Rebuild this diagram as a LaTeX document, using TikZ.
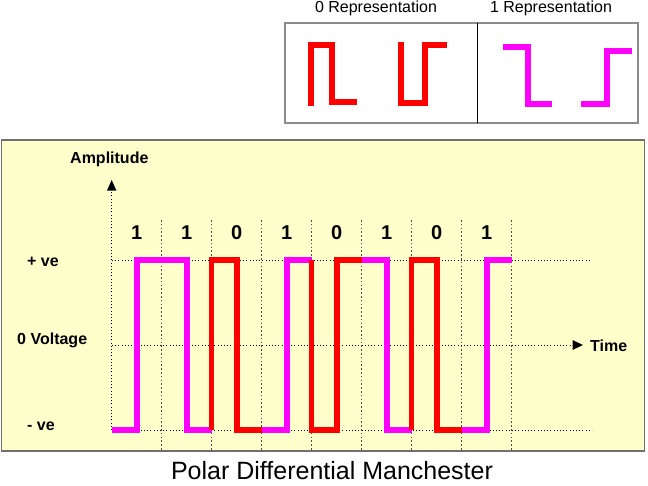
\documentclass[tikz,border=0pt]{standalone}
\usepackage{fontspec}
\setmainfont{Liberation Sans}
\usetikzlibrary{arrows.meta}
\definecolor{bgyellow}{HTML}{FFFFCC}
\definecolor{boxgray}{HTML}{8C8C8C}
\definecolor{mag}{HTML}{FF00FF}
\definecolor{redw}{HTML}{FF0000}
\tikzset{
  lbl/.style={font=\fontsize{16}{19}\selectfont\bfseries, inner sep=0pt},
  toplbl/.style={font=\fontsize{16}{19}\selectfont, inner sep=0pt, anchor=base},
  bitlbl/.style={font=\fontsize{20}{24}\selectfont\bfseries, inner sep=0pt, anchor=base},
  hgrid/.style={black, line width=0.9pt, dash pattern=on 1pt off 2.2pt},
  vgrid/.style={gray!60!black, line width=0.8pt, dash pattern=on 1.6pt off 2.2pt},
  wave/.style={line width=5.5pt, line join=miter},
  onewave/.style={wave, mag},
  zerowave/.style={wave, redw},
}
\begin{document}
\begin{tikzpicture}[x=1pt,y=-1pt]
\useasboundingbox (0,0) rectangle (648,485);
% ---------- legend box ----------
\draw[boxgray, line width=1.4pt] (285,23) rectangle (638,123);
\draw[black, line width=1pt] (477,23) -- (477,123);
\node[toplbl] (l0) at (376,12) {0 Representation};
\node[toplbl] (l1) at (551,12) {1 Representation};
\draw[zerowave, line width=6pt] (311,106) -- (311,45) -- (332,45) -- (332,102) -- (357,102);
\draw[zerowave, line width=6pt] (401,42) -- (401,102.5) -- (425,102.5) -- (425,45) -- (447,45);
\draw[onewave, line width=6pt] (503,47) -- (527.5,47) -- (527.5,104) -- (552,104);
\draw[onewave, line width=6pt] (581,104) -- (607,104) -- (607,50.5) -- (632,50.5);
% ---------- main panel ----------
\draw[fill=bgyellow, draw=boxgray!80!black, line width=1.4pt] (1.5,140) rectangle (644.5,451);
% grid
\foreach \i in {1,...,8} {
  \draw[vgrid] ({111.7+50*\i},220) -- ({111.7+50*\i},450);
}
\coordinate (hiS) at (112,260);
\coordinate (hiE) at (590,260);
\coordinate (loS) at (112,430);
\coordinate (loE) at (592,430);
\draw[hgrid] (hiS) -- (hiE);
\draw[hgrid] (loS) -- (loE);
% axes
\coordinate (yS) at (111.7,430);
\coordinate (yE) at (111.7,180);
\coordinate (xS) at (112,345);
\coordinate (xE) at (583,345);
\draw[hgrid] (yS) -- (111.7,190);
\fill (yE) -- (107,190.5) -- (116.4,190.5) -- cycle;
\draw[hgrid] (xS) -- (573,345);
\fill (xE) -- (572.5,340) -- (572.5,350) -- cycle;
% labels
\node[lbl, anchor=base west] (amp) at (70,163) {Amplitude};
\node[lbl, anchor=base west] (time) at (590,351) {Time};
\node[lbl, anchor=base west] (pve) at (27,266) {+ ve};
\node[lbl, anchor=base west] (zv) at (17,344) {0 Voltage};
\node[lbl, anchor=base west] (nve) at (27,430) {- ve};
% bits
\foreach \b [count=\i] in {1,1,0,1,0,1,0,1} {
  \node[bitlbl] (bit\i) at ({86.7+50*\i},239) {\b};
}
% waveform
\draw[onewave] (112,430) -- (137,430) -- (137,260) -- (187,260) -- (187,430) -- (211.7,430);
\draw[zerowave] (211.7,430) -- (211.7,260) -- (237,260) -- (237,430) -- (261.7,430);
\draw[onewave] (261.7,430) -- (287,430) -- (287,260) -- (311.7,260);
\draw[zerowave] (311.7,260) -- (311.7,430) -- (337,430) -- (337,260) -- (361.7,260);
\draw[onewave] (361.7,260) -- (387,260) -- (387,430) -- (411.7,430);
\draw[zerowave] (411.7,430) -- (411.7,260) -- (437,260) -- (437,430) -- (461.7,430);
\draw[onewave] (461.7,430) -- (487,430) -- (487,260) -- (511.7,260);
% title
\node[font=\fontsize{25}{30}\selectfont, inner sep=0pt, anchor=base] (title) at (332,479.5) {Polar Differential Manchester};
\end{tikzpicture}
\end{document}
